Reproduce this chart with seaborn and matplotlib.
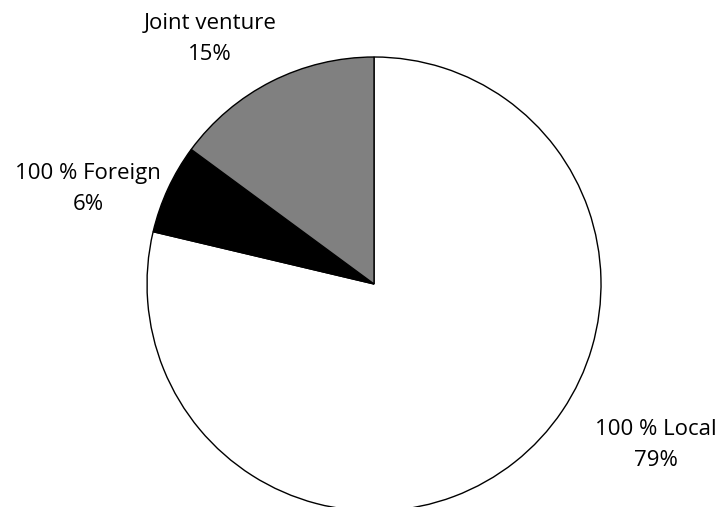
import matplotlib
matplotlib.use("Agg")
import matplotlib.pyplot as plt
import seaborn as sns

categories = ["100 % Local", "100 % Foreign", "Joint venture"]
values = [78.7, 6.4, 14.9]
colors = ["#ffffff", "#000000", "#808080"]

sns.set_theme(style="white")
plt.rcParams['font.family'] = ['Open Sans', 'DejaVu Sans']

fig = plt.figure(figsize=(7.19, 5.07), dpi=100)
ax = fig.add_axes([0.2045, -0.0079, 0.6314, 0.8955])
wedges, _ = ax.pie(values, colors=colors, startangle=90, counterclock=False,
                   radius=1.0, wedgeprops=dict(edgecolor="black", linewidth=1.0))
for w in wedges:
    w.set_clip_on(False)
ax.set_xlim(-1, 1)
ax.set_ylim(-1, 1)
ax.set_aspect("equal")
ax.axis("off")

label_pos = {"Joint venture": (-0.722, 1.079),
             "100 % Foreign": (-1.260, 0.419),
             "100 % Local": (1.242, -0.709)}
for cat, v in zip(categories, values):
    x, y = label_pos[cat]
    ax.text(x, y, f"{cat}\n{round(v)}%", ha="center", va="center", fontsize=16,
            color="black", linespacing=1.65, clip_on=False)

fig.savefig("out.png", dpi=100)
